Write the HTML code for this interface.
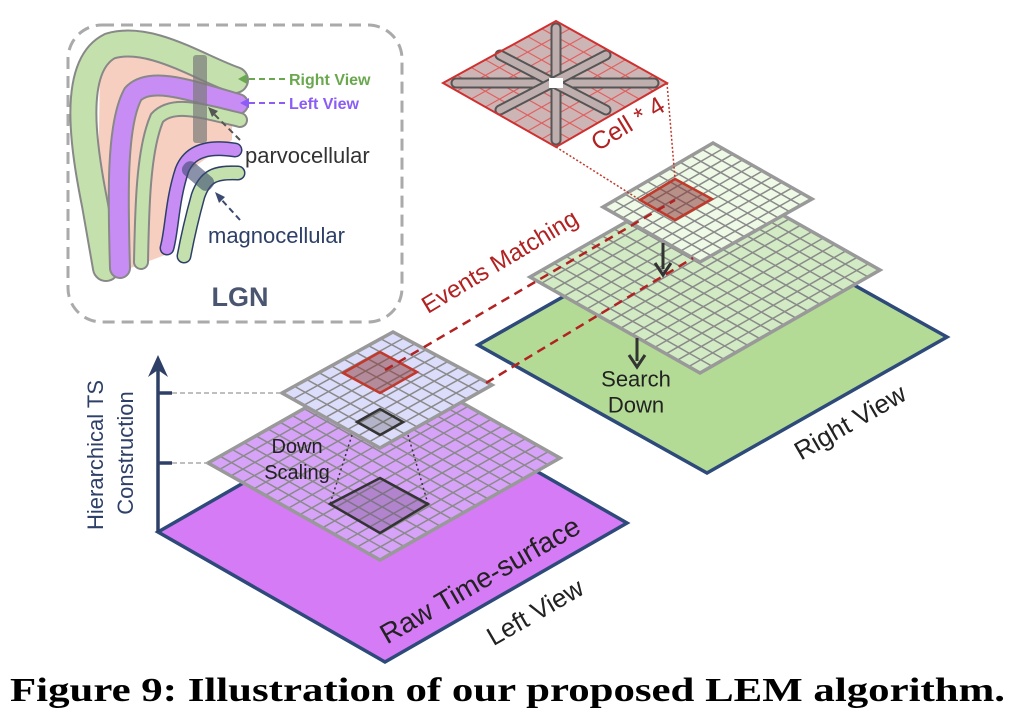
<!DOCTYPE html>
<html><head><meta charset="utf-8"><style>
html,body{margin:0;padding:0;background:#fff;}
svg{display:block;font-family:"Liberation Sans",sans-serif;}
</style></head><body>
<svg id="fig" width="1016" height="720" viewBox="0 0 1016 720" xmlns="http://www.w3.org/2000/svg">
<g>
<rect x="68" y="25" width="334" height="297" rx="34" fill="none" stroke="#aaa" stroke-width="3" stroke-dasharray="12,7"/>
<path d="M100,62 C150,45 205,75 232,95 L232,140 L190,170 L165,255 L120,272 L98,200 Z" fill="#f7cfc0"/>
<g fill="none" stroke-linecap="round">
<path d="M235,80 C200,68 150,34 110,46 C70,66 84,150 95,205 L106,268" stroke="#888" stroke-width="28"/>
<path d="M235,80 C200,68 150,34 110,46 C70,66 84,150 95,205 L106,268" stroke="#c3e0ad" stroke-width="24"/>
<path d="M238,104 C190,90 150,76 133,94 C116,125 118,200 120,268" stroke="#888" stroke-width="22"/>
<path d="M238,104 C190,90 150,76 133,94 C116,125 118,200 120,268" stroke="#c88cf5" stroke-width="18"/>
<path d="M240,120 C200,110 172,102 157,118 C143,150 142,210 141,262" stroke="#888" stroke-width="16"/>
<path d="M240,120 C200,110 172,102 157,118 C143,150 142,210 141,262" stroke="#c3e0ad" stroke-width="12"/>
<path d="M235,150 C210,146 190,150 182,170 C172,200 172,230 167,248" stroke="#2e4068" stroke-width="15"/>
<path d="M235,150 C210,146 190,150 182,170 C172,200 172,230 167,248" stroke="#c88cf5" stroke-width="12"/>
<path d="M238,173 C215,172 205,176 198,196 C190,225 187,240 184,256" stroke="#2e4068" stroke-width="15"/>
<path d="M238,173 C215,172 205,176 198,196 C190,225 187,240 184,256" stroke="#c3e0ad" stroke-width="12"/>
</g>
<rect x="193" y="55" width="14" height="88" rx="3" fill="#7a7a7a" opacity="0.7"/>
<rect x="180" y="168" width="36" height="16" rx="7" fill="#3a4a70" opacity="0.6" transform="rotate(40 198 176)"/>
<line x1="285" y1="79" x2="244" y2="79" stroke="#6aa84f" stroke-width="2" stroke-dasharray="6,4"/>
<path d="M238,79 L247,74 L247,84 Z" fill="#6aa84f"/>
<text x="289" y="85" font-size="16" font-weight="bold" fill="#6aa84f">Right View</text>
<line x1="285" y1="103" x2="246" y2="103" stroke="#8b5cf6" stroke-width="2" stroke-dasharray="6,4"/>
<path d="M240,103 L249,98 L249,108 Z" fill="#8b5cf6"/>
<text x="289" y="109" font-size="16" font-weight="bold" fill="#8b5cf6">Left View</text>
<line x1="240" y1="140" x2="212" y2="112" stroke="#555" stroke-width="2" stroke-dasharray="6,4"/>
<path d="M208,107 L218,111 L212,117 Z" fill="#555"/>
<text x="245" y="163" font-size="22" fill="#333">parvocellular</text>
<line x1="240" y1="220" x2="220" y2="198" stroke="#3a4a70" stroke-width="2" stroke-dasharray="6,4"/>
<path d="M215,192 L225,197 L219,203 Z" fill="#3a4a70"/>
<text x="208" y="243" font-size="22" fill="#2e4068">magnocellular</text>
<text x="240" y="306" font-size="27" font-weight="bold" fill="#4a5570" text-anchor="middle">LGN</text>
</g>
<g id="planes"></g>
<g>
<line x1="158" y1="532" x2="158" y2="365" stroke="#2e4068" stroke-width="3.5"/>
<path d="M158,355 L148,377 L158,370 L168,377 Z" fill="#2e4068"/>
<line x1="158" y1="393" x2="172" y2="393" stroke="#2e4068" stroke-width="3.5"/>
<line x1="158" y1="463" x2="172" y2="463" stroke="#2e4068" stroke-width="3.5"/>
<line x1="172" y1="393" x2="282" y2="393" stroke="#aaa" stroke-width="1.5" stroke-dasharray="5,3"/>
<line x1="172" y1="463" x2="208" y2="463" stroke="#aaa" stroke-width="1.5" stroke-dasharray="5,3"/>
<text transform="translate(103,455) rotate(-90)" font-size="22" fill="#2e4068" text-anchor="middle">Hierarchical TS</text>
<text transform="translate(133,453) rotate(-90)" font-size="22" fill="#2e4068" text-anchor="middle">Construction</text>
</g>
<text x="10" y="701" font-family="'Liberation Serif',serif" font-size="34" font-weight="bold" fill="#000" textLength="995" lengthAdjust="spacingAndGlyphs">Figure 9: Illustration of our proposed LEM algorithm.</text>
</svg>
<script>
const planeNames = ['left-base','left-mid-grid','left-top-grid','right-base','right-mid-grid','right-top-grid'];
const planeCorners = [
 [[158,532],[400,393],[627,523],[385,662]],
 [[208,463],[388,361],[560,458],[380,560]],
 [[282,393],[393,332],[492,385],[380,448]],
 [[478,345],[718,209],[947,337],[707,473]],
 [[530,277],[710,174],[880,270],[700,373]],
 [[603,207],[713,143],[812,199],[700,262]]
];
const planeFills = ['#d67bf6','#d7a3f9','#dcdcfb','#b3db96','#d2ebc4','#eefae6'];
const planeStrokes = ['#2e4a7a','#999','#999','#2e4a7a','#999','#999'];
const planeDivs = [0,15,9,0,15,10];
const NS='http://www.w3.org/2000/svg';
const root=document.getElementById('planes');
function mk(tag,attrs,parent){const e=document.createElementNS(NS,tag);for(const k in attrs)e.setAttribute(k,attrs[k]);(parent||root).appendChild(e);return e;}
function pts(c){return c.map(p=>p.join(',')).join(' ');}
function lerp(a,b,t){return [a[0]+(b[0]-a[0])*t,a[1]+(b[1]-a[1])*t];}
function grid(c,n,col,w,parent){
 const [L,T,R,B]=c;
 for(let i=1;i<n;i++){const t=i/n;
  let a=lerp(L,T,t),b=lerp(B,R,t);
  mk('line',{x1:a[0],y1:a[1],x2:b[0],y2:b[1],stroke:col,'stroke-width':w},parent);
  a=lerp(L,B,t);b=lerp(T,R,t);
  mk('line',{x1:a[0],y1:a[1],x2:b[0],y2:b[1],stroke:col,'stroke-width':w},parent);}
}
function drawPlane(i){
 const g=mk('g',{});
 
 
 mk('polygon',{points:pts(planeCorners[i]),fill:planeFills[i]},g);
 if(planeDivs[i])grid(planeCorners[i],planeDivs[i],'#8a8a8a',1.5,g);
 mk('polygon',{points:pts(planeCorners[i]),fill:'none',stroke:planeStrokes[i],'stroke-width':3.5,'stroke-linejoin':'miter'},g);
 return g;
}
function cell(c,fill,stroke,op,name){
 const e=mk('polygon',{points:pts(c),fill:fill,'fill-opacity':op,stroke:stroke,'stroke-width':2.5});
 
 
}
function dline(x1,y1,x2,y2,col,w,da){mk('line',{x1,y1,x2,y2,stroke:col,'stroke-width':w,'stroke-dasharray':da});}
drawPlane(0);
drawPlane(1);
cell([[330,504],[380,478],[428,504],[380,533]],'#6a4a7a','#333',0.35,'downscale-region');
dline(352,435,330,504,'#333',1.5,'2,3');
dline(408,435,428,504,'#333',1.5,'2,3');
drawPlane(2);
cell([[343,373],[380,352],[417,372],[380,393]],'#8b3a3a','#c0392b',0.5,'left-match-cell');
cell([[357,422],[380,409],[403,422],[380,435]],'#555','#333',0.3,'left-small-cell');
drawPlane(3);
drawPlane(4);
drawPlane(5);
cell([[640,200],[675,179],[712,199],[675,220]],'#8b3a3a','#c0392b',0.55,'right-match-cell');
function arrow(x,y1,y2,name){const g=mk('g',{});
 
 
 mk('line',{x1:x,y1:y1,x2:x,y2:y2-6,stroke:'#333','stroke-width':3},g);
 mk('path',{d:`M${x-8},${y2-12} L${x},${y2} L${x+8},${y2-12}`,fill:'none',stroke:'#333','stroke-width':3},g);}
arrow(663,243,275,'search-arrow-1');
arrow(637,338,367,'search-arrow-2');
dline(385,370,675,200,'#b22222',2.5,'9,6');
dline(486,383,693,258,'#b22222',2.5,'9,6');
const ins=[[443,83],[556,21],[667,83],[556,147]];
const ig=mk('g',{});


mk('polygon',{points:pts(ins),fill:'#cdb5b5'},ig);
grid(ins,8,'#e06060',1.2,ig);
function bar(a,b){mk('line',{x1:a[0],y1:a[1],x2:b[0],y2:b[1],stroke:'#555','stroke-width':11,'stroke-linecap':'round'},ig);
 mk('line',{x1:a[0],y1:a[1],x2:b[0],y2:b[1],stroke:'#d2bebe','stroke-width':7,'stroke-linecap':'round','stroke-opacity':0.85},ig);}
bar([456,83],[654,83]);bar([556,28],[556,140]);bar([500,55],[606,110]);bar([500,110],[606,55]);
mk('rect',{x:549,y:78,width:14,height:10,fill:'#fff'},ig);
mk('polygon',{points:pts(ins),fill:'none',stroke:'#d03030','stroke-width':2},ig);
dline(556,147,640,200,'#c0392b',1.5,'2,2');
dline(667,83,675,179,'#c0392b',1.5,'2,2');
function txt(s,x,y,size,col,rot,name){const t=mk('text',{x:0,y:0,'font-size':size,fill:col,'text-anchor':'middle','dominant-baseline':'central',transform:`translate(${x},${y}) rotate(${rot})`});
 
 
 t.textContent=s;}
txt('Cell * 4',628,124,25,'#b22222',-31,'cell-times-4-label');
txt('Events Matching',500,262,24,'#b22222',-31,'events-matching-label');
txt('Search',636,379,22,'#222',0,'search-label');
txt('Down',636,405,22,'#222',0,'down-label');
txt('Down',297,447,20,'#222',0,'down-scaling-label-1');
txt('Scaling',297,473,20,'#222',0,'down-scaling-label-2');
txt('Raw Time-surface',480,580,28,'#222',-30,'raw-time-surface-label');
txt('Left View',535,612,26,'#222',-30,'left-view-label');
txt('Right View',850,422,26,'#222',-30,'right-view-label');
</script>
</body></html>
